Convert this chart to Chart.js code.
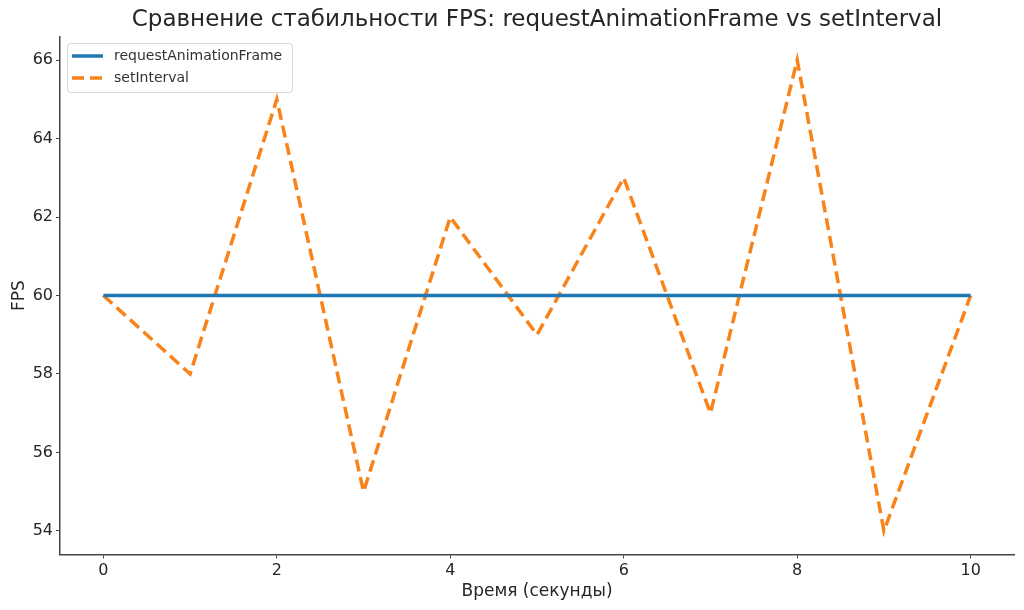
<!DOCTYPE html>
<html>
<head>
<meta charset="utf-8">
<script src="https://cdn.jsdelivr.net/npm/chart.js@4.4.0/dist/chart.umd.min.js"></script>
<style>
  html, body { margin: 0; padding: 0; background: #fff; }
  #wrap { width: 1024px; height: 610px; }
</style>
</head>
<body>
<div id="wrap"><canvas id="grafico" width="1024" height="610"></canvas></div>
<script>
// datos
const segundos = [0, 1, 2, 3, 4, 5, 6, 7, 8, 9, 10];
const fpsRaf = [60, 60, 60, 60, 60, 60, 60, 60, 60, 60, 60];
const fpsInterval = [60, 58, 65, 55, 62, 59, 63, 57, 66, 54, 60];
const ticksX = [0, 2, 4, 6, 8, 10];
const ticksY = [54, 56, 58, 60, 62, 64, 66];
const titulo = 'Сравнение стабильности FPS: requestAnimationFrame vs setInterval';

const FUENTE = '"DejaVu Sans", sans-serif';
const AZUL = '#1f77b4';
const NARANJA = '#f8831a';
const EJE = '#444';

// título centrado sobre el área de datos (como matplotlib)
const tituloEje = {
  id: 'tituloEje',
  afterDraw(chart) {
    const c = chart.ctx;
    const a = chart.chartArea;
    c.save();
    c.fillStyle = '#262626';
    c.font = '23px ' + FUENTE;
    c.textAlign = 'center';
    c.textBaseline = 'middle';
    c.fillText(titulo, (a.left + a.right) / 2, 20);
    c.restore();
  }
};

// leyenda dentro del área, estilo matplotlib
const leyenda = {
  id: 'leyenda',
  afterDraw(chart) {
    const c = chart.ctx;
    const x = 67, y = 43, w = 225, h = 49;
    c.save();
    c.fillStyle = 'rgba(255,255,255,0.8)';
    c.strokeStyle = '#d8d8d8';
    c.lineWidth = 1;
    c.beginPath();
    c.roundRect(x + 0.5, y + 0.5, w, h, 3);
    c.fill();
    c.stroke();
    const filas = [
      { txt: chart.data.datasets[0].label, color: AZUL, dash: [] },
      { txt: chart.data.datasets[1].label, color: NARANJA, dash: [12, 6] }
    ];
    filas.forEach((f, i) => {
      const yy = y + 13 + i * 22;
      c.strokeStyle = f.color;
      c.lineWidth = 3.5;
      c.setLineDash(f.dash);
      c.beginPath();
      c.moveTo(72, yy);
      c.lineTo(103, yy);
      c.stroke();
      c.setLineDash([]);
      c.fillStyle = '#333';
      c.font = '14px ' + FUENTE;
      c.textBaseline = 'middle';
      c.fillText(f.txt, 114, yy);
    });
    c.restore();
  }
};

const ctx = document.getElementById('grafico');
new Chart(ctx, {
  type: 'line',
  data: {
    labels: segundos,
    datasets: [{
      label: 'requestAnimationFrame',
      data: segundos.map((s, i) => ({ x: s, y: fpsRaf[i] })),
      borderColor: AZUL,
      borderWidth: 3.5,
      pointRadius: 0,
      tension: 0
    }, {
      label: 'setInterval',
      data: segundos.map((s, i) => ({ x: s, y: fpsInterval[i] })),
      borderColor: NARANJA,
      borderWidth: 3.5,
      borderDash: [12, 6],
      pointRadius: 0,
      tension: 0
    }]
  },
  options: {
    responsive: false,
    animation: false,
    layout: { padding: { right: 10, left: 0, bottom: 0, top: 36.5 } },
    plugins: {
      legend: { display: false },
      tooltip: { enabled: false },
      title: { display: false }
    },
    scales: {
      x: {
        type: 'linear',
        min: -0.5,
        max: 10.5,
        afterBuildTicks: s => { s.ticks = ticksX.map(v => ({ value: v })); },
        afterFit: s => { s.height = 55.5; },
        grid: { drawOnChartArea: false, drawTicks: true, tickLength: 4, color: EJE },
        border: { display: true, color: EJE, width: 1.5 },
        ticks: { color: '#262626', padding: 3, maxRotation: 0, font: { family: FUENTE, size: 16 } },
        title: {
          display: true,
          text: 'Время (секунды)',
          color: '#262626',
          font: { family: FUENTE, size: 17 },
          padding: { top: 4, bottom: 8 }
        }
      },
      y: {
        min: 53.4,
        max: 66.6,
        afterBuildTicks: s => { s.ticks = ticksY.map(v => ({ value: v })); },
        afterFit: s => { s.width = 60; },
        grid: { drawOnChartArea: false, drawTicks: true, tickLength: 4, color: EJE },
        border: { display: true, color: EJE, width: 1.5 },
        ticks: { color: '#262626', padding: 3, font: { family: FUENTE, size: 16 } },
        title: {
          display: true,
          text: 'FPS',
          color: '#262626',
          font: { family: FUENTE, size: 17 },
          padding: { top: 9, bottom: 2 }
        }
      }
    }
  },
  plugins: [tituloEje, leyenda]
});
</script>
</body>
</html>
